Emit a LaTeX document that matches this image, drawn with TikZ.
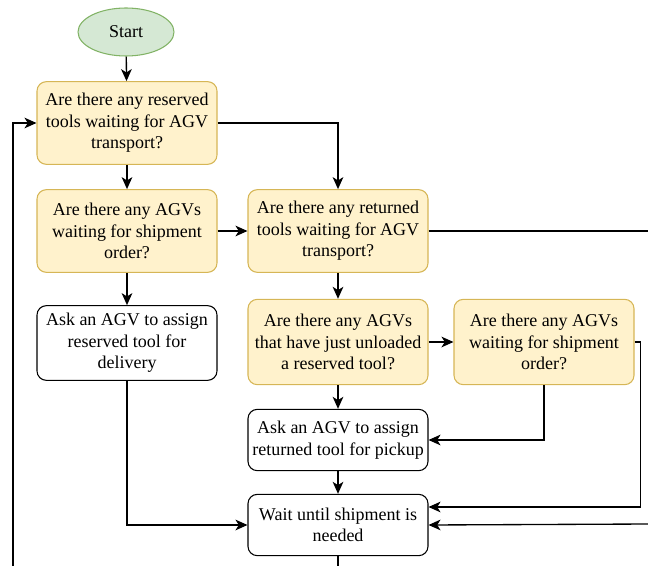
\documentclass[tikz,border=0pt]{standalone}
\usepackage{fontspec}
\setmainfont{Liberation Serif}
\usetikzlibrary{arrows.meta,shapes.geometric}
\definecolor{startfill}{HTML}{D5E8D4}
\definecolor{startline}{HTML}{82B366}
\definecolor{askfill}{HTML}{FFF2CC}
\definecolor{askline}{HTML}{D6B656}
\begin{document}
\begin{tikzpicture}
  [x=0.75pt,y=-0.75pt,
   font=\fontsize{13.5pt}{16.2pt}\selectfont,
   start/.style={ellipse,draw=startline,fill=startfill,line width=0.8pt,
     minimum width=72pt,minimum height=36pt},
   query/.style={rectangle,rounded corners=7pt,draw=askline,fill=askfill,
     line width=0.8pt,align=center,minimum width=135pt,minimum height=62pt,
     inner sep=2pt},
   task/.style={rectangle,rounded corners=7pt,draw=black,fill=white,
     line width=0.8pt,align=center,minimum width=135pt,inner sep=2pt},
   flow/.style={draw,line width=1pt,-{Stealth[length=9pt,width=8pt,inset=2.5pt]}}]
  \useasboundingbox (0,0) rectangle (648,566);
  % nodes
  \node[start] (start) at (126,32) {Start};
  \node[query] (resv) at (127,123)
    {Are there any reserved\\tools waiting for AGV\\transport?};
  \node[query] (agvs) at (127,231)
    {Are there any AGVs\\waiting for shipment\\order?};
  \node[task,minimum height=56pt] (deliv) at (127,343)
    {Ask an AGV to assign\\reserved tool for\\delivery};
  \node[query] (retn) at (338,231)
    {Are there any returned\\tools waiting for AGV\\transport?};
  \node[query,minimum height=64pt] (unld) at (338,342)
    {Are there any AGVs\\that have just unloaded\\a reserved tool?};
  \node[query,minimum height=64pt] (agvs2) at (544,342)
    {Are there any AGVs\\waiting for shipment\\order?};
  \node[task,minimum height=46pt] (pick) at (338,440)
    {Ask an AGV to assign\\returned tool for pickup};
  \node[task,minimum height=46pt] (wait) at (338,525)
    {Wait until shipment is\\needed};
  % free ends at the border
  \coordinate (outR1) at (648,231);
  \coordinate (outR2) at (648,524);
  \coordinate (outB) at (338,566);
  \coordinate (loop) at (13,566);
  % connectors
  \draw[flow] (start) -- (resv);
  \draw[flow] (resv) -- (agvs);
  \draw[flow] (resv.east) -| (retn.north);
  \draw[flow] (agvs) -- (retn);
  \draw[flow] (agvs) -- (deliv);
  \draw[flow] (retn) -- (unld);
  \draw[line width=1pt] (retn.east) -- (outR1);
  \draw[flow] (unld) -- (agvs2);
  \draw[flow] (unld) -- (pick);
  \draw[flow] (agvs2.south) |- (pick.east);
  \draw[flow] (agvs2.east) -- ++(6,0) |- ([yshift=13.5pt]wait.east);
  \draw[flow] (outR2) -- (wait.east);
  \draw[flow] (pick) -- (wait);
  \draw[flow] (deliv.south) |- (wait.west);
  \draw[line width=1pt] (wait.south) -- (outB);
  \draw[flow] (loop) |- (resv.west);
\end{tikzpicture}
\end{document}
